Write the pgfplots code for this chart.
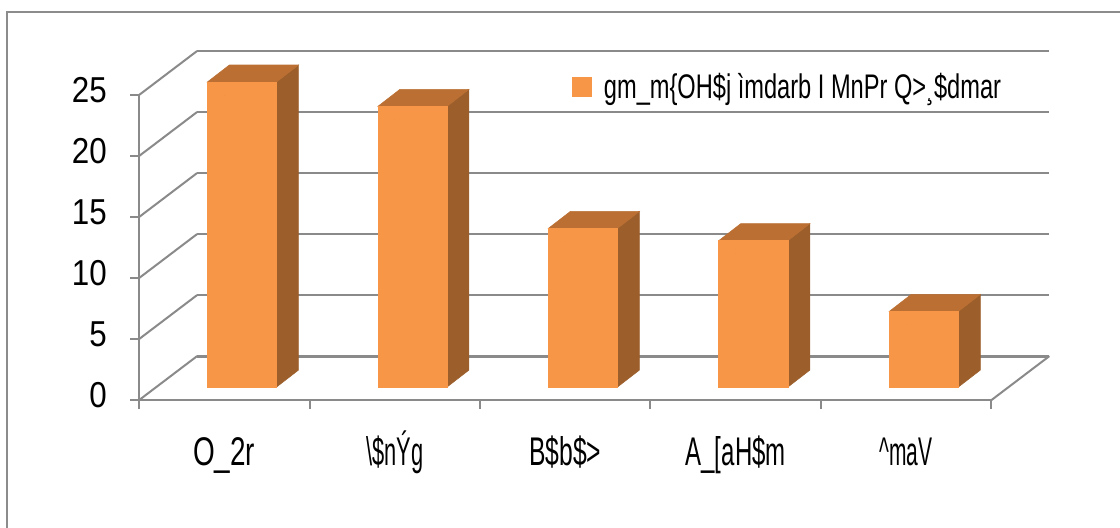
\documentclass[border=0pt]{standalone}
\usepackage{graphicx}
\usepackage{pgfplots}
\pgfplotsset{compat=1.18}
\usepackage{fontspec}
\setmainfont{Liberation Sans}[FakeStretch=0.87]
\definecolor{barfront}{HTML}{F79646}
\definecolor{bartop}{HTML}{BB6F32}
\definecolor{barside}{HTML}{9C5F2C}
\definecolor{gridc}{HTML}{8A8A8A}
\definecolor{framec}{HTML}{8C8C8C}
\newcommand{\bigfont}{\fontsize{27}{32}\selectfont}
\newcommand{\xl}[2]{\resizebox{#1}{\height}{\fontsize{30}{36}\selectfont #2}}
\pgfplotstableread{
x v
0 25
1 23
2 13
3 12
4 6.2
}\bardata
\begin{document}
\begin{tikzpicture}
\begin{axis}[
  x=127.8pt, y=9.15pt,
  xmin=-0.5, xmax=4.5, ymin=0, ymax=25,
  clip=false,
  axis x line*=bottom, axis y line*=left,
  axis line style={gridc, line width=1.8pt},
  tick align=outside,
  major tick length=6.75pt, minor tick length=6.75pt,
  ytick={0,5,10,15,20,25},
  major y tick style={gridc, line width=1.5pt},
  xtick={0,1,2,3,4},
  xticklabels={\xl{46.5pt}{O\_2r}, \xl{42.75pt}{\textbackslash\$nÝg}, \xl{54pt}{B\$b\$>}, \xl{75pt}{A\_[aH\$m}, \xl{39.75pt}{\textasciicircum maV}},
  major x tick style={draw=none},
  minor xtick={-0.5,0.5,1.5,2.5,3.5,4.5},
  minor x tick style={gridc, line width=1.5pt},
  /pgf/number format/assume math mode=true,
  yticklabel style={font=\bigfont, anchor=east, inner sep=0pt, xshift=-17.25pt, yshift=3.75pt},
  xticklabel style={anchor=base, inner sep=0pt, yshift=-42pt},
  legend style={at={(axis cs:2.041,25.66)}, anchor=west, draw=none, fill=none,
    inner sep=0pt, nodes={inner sep=0pt},
    /tikz/every odd column/.append style={column sep=9pt}},
]
% walls and back grid
\draw[gridc, line width=1.5pt] (axis cs:-0.5,0) -- (axis cs:-0.1596,3.607);
\draw[gridc, line width=1.5pt] (axis cs:-0.5,5) -- (axis cs:-0.1596,8.607);
\draw[gridc, line width=1.5pt] (axis cs:-0.5,10) -- (axis cs:-0.1596,13.607);
\draw[gridc, line width=1.5pt] (axis cs:-0.5,15) -- (axis cs:-0.1596,18.607);
\draw[gridc, line width=1.5pt] (axis cs:-0.5,20) -- (axis cs:-0.1596,23.607);
\draw[gridc, line width=1.5pt] (axis cs:-0.5,25) -- (axis cs:-0.1596,28.607);
\draw[gridc, line width=2.1pt] (axis cs:-0.1596,3.607) -- (axis cs:4.8404,3.607);
\draw[gridc, line width=2.1pt] (axis cs:-0.1596,8.607) -- (axis cs:4.8404,8.607);
\draw[gridc, line width=2.1pt] (axis cs:-0.1596,13.607) -- (axis cs:4.8404,13.607);
\draw[gridc, line width=2.1pt] (axis cs:-0.1596,18.607) -- (axis cs:4.8404,18.607);
\draw[gridc, line width=2.1pt] (axis cs:-0.1596,23.607) -- (axis cs:4.8404,23.607);
\draw[gridc, line width=2.1pt] (axis cs:-0.1596,28.607) -- (axis cs:4.8404,28.607);
\draw[gridc, line width=1.5pt] (axis cs:4.5,0) -- (axis cs:4.8404,3.607);
\addplot[scatter, only marks, mark=*, mark size=0pt,
  visualization depends on={rawy \as \val},
  scatter/@pre marker code/.code={%
    \pgfkeys{/pgf/fpu=false}%
    \pgfmathsetmacro\hb{9.75-\val*9.15}%
    \pgfmathsetmacro\hs{\hb+12.75}%
    \fill[barside] (39.1pt,9.75pt) -- (55.6pt,22.5pt) -- (55.6pt,\hs pt) -- (39.1pt,\hb pt) -- cycle;
    \fill[bartop] (-12.7pt,9.75pt) -- (39.1pt,9.75pt) -- (55.6pt,22.5pt) -- (3.8pt,22.5pt) -- cycle;
    \fill[barfront] (-12.7pt,9.75pt) rectangle (39.1pt,\hb pt);
  },
  scatter/@post marker code/.code={},
  legend image code/.code={\fill[barfront] (0pt,-7.1pt) rectangle (14.2pt,7.1pt);}
] table[x=x, y=v] {\bardata};
\addlegendentry{\resizebox{297.75pt}{\height}{\fontsize{25.6}{31}\selectfont gm\_m\{OH\$j ìmdarb I MnPr Q>¸\$dmar}}
\coordinate (BL) at (axis cs:-1.3157,-10.41);
\coordinate (TR) at (axis cs:5.2547,32.787);
\coordinate (FL) at (axis cs:-1.2747,-11.475);
\coordinate (FT) at (axis cs:5.314,31.803);
\end{axis}
\draw[framec, line width=1.1pt] (FL) -- (FL |- FT) -- (FT);
\pgfresetboundingbox
\path[use as bounding box] (BL) rectangle (TR);
\end{tikzpicture}
\end{document}
